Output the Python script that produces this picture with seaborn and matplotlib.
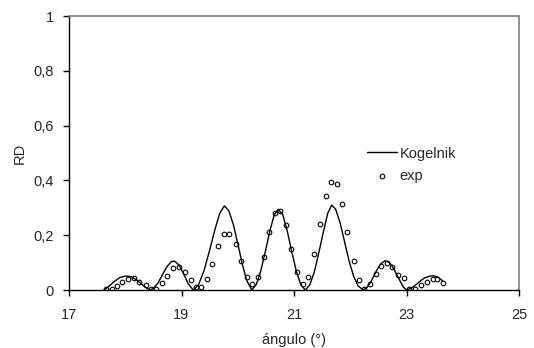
import numpy as np
import pandas as pd
import matplotlib
matplotlib.use('Agg')
import matplotlib.pyplot as plt
import seaborn as sns
from matplotlib.ticker import FuncFormatter

# Kogelnik theoretical curve
kog_x = [17.62, 17.70, 17.80, 17.90, 18.00, 18.10, 18.20, 18.30, 18.38, 18.44,
         18.50, 18.58, 18.66, 18.74, 18.82, 18.88, 18.96, 19.04, 19.12, 19.21,
         19.30, 19.40, 19.50, 19.60, 19.68, 19.76, 19.84, 19.92, 20.00, 20.08, 20.16, 20.25,
         20.33, 20.41, 20.49, 20.57, 20.65, 20.72, 20.80, 20.88, 20.96, 21.04, 21.12, 21.20,
         21.28, 21.36, 21.44, 21.52, 21.60, 21.67, 21.74, 21.82, 21.90, 21.98, 22.06, 22.14, 22.23,
         22.30, 22.38, 22.46, 22.54, 22.62, 22.70, 22.78, 22.86, 22.94, 23.00,
         23.08, 23.16, 23.24, 23.32, 23.40, 23.48, 23.56, 23.65]
kog_y = [0.0, 0.012, 0.030, 0.045, 0.051, 0.049, 0.037, 0.020, 0.007, 0.0,
         0.006, 0.025, 0.055, 0.085, 0.104, 0.105, 0.090, 0.058, 0.022, 0.0,
         0.018, 0.070, 0.145, 0.225, 0.280, 0.307, 0.290, 0.240, 0.170, 0.095, 0.035, 0.0,
         0.020, 0.070, 0.140, 0.215, 0.275, 0.294, 0.275, 0.215, 0.140, 0.070, 0.020, 0.0,
         0.018, 0.065, 0.135, 0.210, 0.280, 0.310, 0.295, 0.245, 0.175, 0.105, 0.050, 0.015, 0.0,
         0.010, 0.035, 0.068, 0.095, 0.107, 0.100, 0.075, 0.043, 0.012, 0.0,
         0.006, 0.018, 0.032, 0.044, 0.050, 0.052, 0.047, 0.032]

# experimental points
exp_x = [17.66, 17.76, 17.85, 17.95, 18.05, 18.16, 18.25, 18.36, 18.46, 18.55,
         18.65, 18.75, 18.85, 18.95, 19.06, 19.16, 19.25, 19.35, 19.46, 19.55,
         19.65, 19.76, 19.85, 19.96, 20.06, 20.17, 20.25, 20.36, 20.46, 20.55,
         20.66, 20.75, 20.85, 20.95, 21.06, 21.16, 21.25, 21.36, 21.47, 21.56,
         21.65, 21.76, 21.85, 21.95, 22.06, 22.16, 22.25, 22.35, 22.46, 22.55,
         22.65, 22.75, 22.85, 22.95, 23.05, 23.15, 23.25, 23.36, 23.47, 23.55, 23.65]
exp_y = [0.005, 0.005, 0.015, 0.030, 0.039, 0.044, 0.030, 0.018, 0.005, 0.005,
         0.027, 0.052, 0.079, 0.085, 0.067, 0.035, 0.010, 0.011, 0.039, 0.096,
         0.162, 0.205, 0.205, 0.167, 0.105, 0.046, 0.022, 0.049, 0.122, 0.210,
         0.281, 0.288, 0.236, 0.150, 0.066, 0.022, 0.049, 0.131, 0.241, 0.342,
         0.393, 0.386, 0.315, 0.210, 0.106, 0.035, 0.005, 0.022, 0.057, 0.087,
         0.097, 0.083, 0.053, 0.044, 0.005, 0.005, 0.018, 0.030, 0.040, 0.040, 0.025]

kog = pd.DataFrame({'x': kog_x, 'y': kog_y})
exp = pd.DataFrame({'x': exp_x, 'y': exp_y})

sns.set_theme(style='ticks')
plt.rcParams['font.family'] = ['Liberation Sans', 'DejaVu Sans']

fs = 10.5
fig = plt.figure(figsize=(5.34, 3.48), dpi=100)
ax = fig.add_axes([69 / 534, 58 / 348, 450 / 534, 274 / 348])

sns.lineplot(data=kog, x='x', y='y', ax=ax, color='black', linewidth=1.0,
             label='Kogelnik', sort=False)
sns.scatterplot(data=exp, x='x', y='y', ax=ax, marker='o', s=11,
                facecolor='white', edgecolor='black', linewidth=0.8, label='exp')

ax.set_xlim(17, 25)
ax.set_ylim(0, 1)
ax.set_xticks([17, 19, 21, 23, 25])
ax.set_yticks([0, 0.2, 0.4, 0.6, 0.8, 1.0])
ax.yaxis.set_major_formatter(FuncFormatter(lambda v, p: ('%g' % round(v, 1)).replace('.', ',')))
ax.set_xlabel('ángulo (°)', fontsize=fs, labelpad=8)
ax.set_ylabel('RD', fontsize=fs, labelpad=5)
ax.tick_params(axis='both', labelsize=fs, direction='out', length=4, width=1.0,
               color='black', left=True, bottom=True)
ax.tick_params(axis='x', pad=9)
ax.tick_params(axis='y', pad=7)

for s in ['left', 'bottom']:
    ax.spines[s].set_visible(True)
    ax.spines[s].set_color('black')
    ax.spines[s].set_linewidth(1.0)
for s in ['top', 'right']:
    ax.spines[s].set_visible(True)
    ax.spines[s].set_color('#808080')
    ax.spines[s].set_linewidth(1.2)

ax.legend(loc='upper left', bbox_to_anchor=(0.65, 0.545), frameon=False,
          fontsize=fs, handlelength=2.0, handletextpad=0.2, labelspacing=0.6,
          borderaxespad=0)

fig.savefig('out.png', dpi=100, facecolor='white')
